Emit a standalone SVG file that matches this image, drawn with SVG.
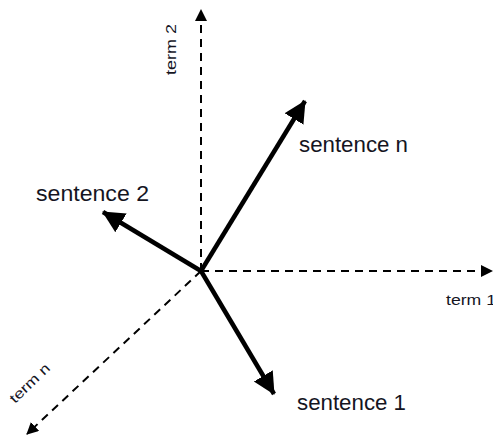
<svg xmlns="http://www.w3.org/2000/svg" width="493" height="437" viewBox="0 0 493 437">
<style>
.axis{stroke:#000;stroke-width:2;stroke-dasharray:8,6;fill:none}
.vec{stroke:#000;stroke-width:4.5;fill:none}
.lbl{font-family:"Liberation Sans",Arial,sans-serif;font-size:22px;fill:#15151f}
.ax{font-family:"Liberation Sans",Arial,sans-serif;font-size:14px;fill:#15151f}
</style>
<defs>
<marker id="ah" markerUnits="userSpaceOnUse" markerWidth="14" markerHeight="14" refX="11" refY="6" orient="auto">
<path d="M0,0 L12,6 L0,12 Z" fill="#000"/>
</marker>
<marker id="vh" markerUnits="userSpaceOnUse" markerWidth="26" markerHeight="26" refX="21" refY="11" orient="auto">
<path d="M0,0 L22,11 L0,22 Z" fill="#000"/>
</marker>
</defs>
<g id="connectors">
<line class="axis" x1="201" y1="271" x2="201" y2="10" marker-end="url(#ah)"/>
<line class="axis" x1="201" y1="271" x2="492" y2="271" marker-end="url(#ah)"/>
<line class="axis" x1="201" y1="271" x2="27" y2="434" marker-end="url(#ah)"/>
<line class="vec" x1="201" y1="271" x2="305" y2="101" marker-end="url(#vh)"/>
<line class="vec" x1="201" y1="271" x2="103" y2="212" marker-end="url(#vh)"/>
<line class="vec" x1="201" y1="271" x2="274" y2="394" marker-end="url(#vh)"/>
</g>
<g id="term1"><text class="ax" x="446" y="305" textLength="50" lengthAdjust="spacingAndGlyphs">term 1</text></g>
<g id="term2"><text class="ax" transform="translate(176,75) rotate(-90)" textLength="51" lengthAdjust="spacingAndGlyphs">term 2</text></g>
<g id="termn"><text class="ax" transform="translate(15,404) rotate(-44)" textLength="50" lengthAdjust="spacingAndGlyphs">term n</text></g>
<g id="sentence-n"><text class="lbl" x="299" y="152" textLength="109" lengthAdjust="spacingAndGlyphs">sentence n</text></g>
<g id="sentence-2"><text class="lbl" x="36" y="201" textLength="113" lengthAdjust="spacingAndGlyphs">sentence 2</text></g>
<g id="sentence-1"><text class="lbl" x="297" y="410" textLength="109" lengthAdjust="spacingAndGlyphs">sentence 1</text></g>
</svg>
